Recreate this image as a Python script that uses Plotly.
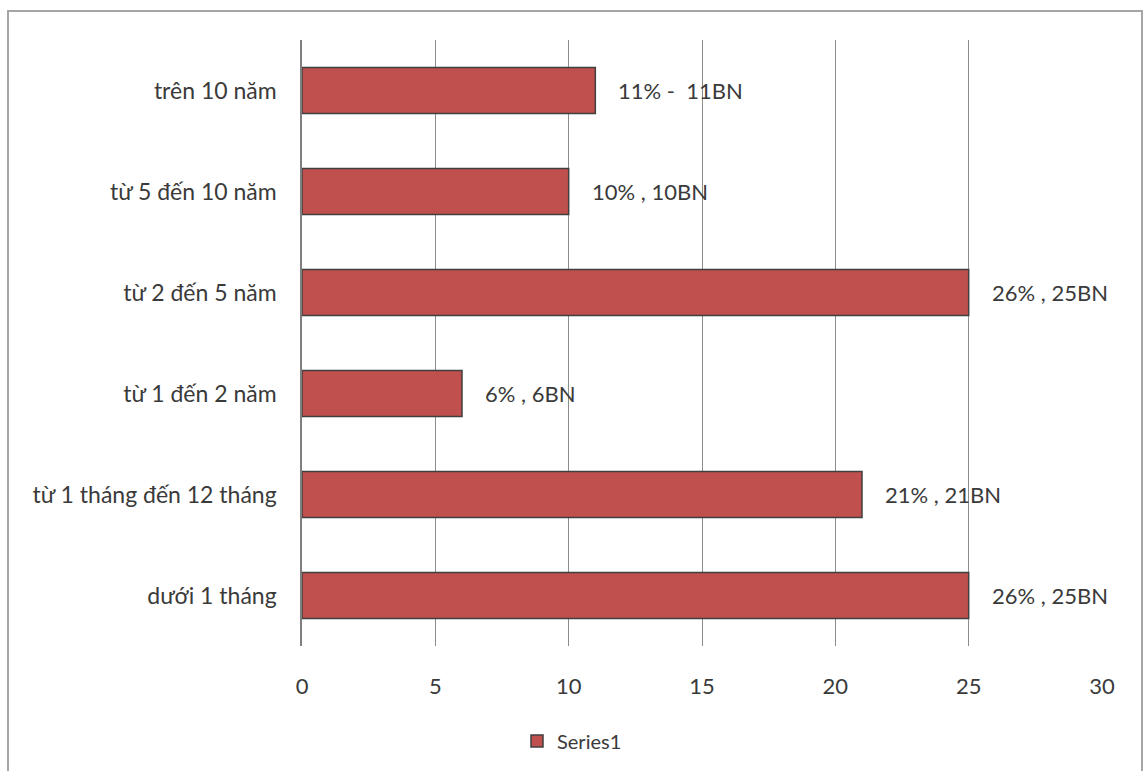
import plotly.graph_objects as go

categories = ["dưới 1 tháng", "từ 1 tháng đến 12 tháng", "từ 1 đến 2 năm",
              "từ 2 đến 5 năm", "từ 5 đến 10 năm", "trên 10 năm"]
values = [25, 21, 6, 25, 10, 11]
data_labels = ["26% , 25BN", "21% , 21BN", "6% , 6BN",
               "26% , 25BN", "10% , 10BN", "11% -  11BN"]
x_ticks = [0, 5, 10, 15, 20, 25, 30]

FONT = "Lato, Carlito, Calibri, sans-serif"
TXT = "#3a3a3a"

fig = go.Figure()
fig.add_trace(go.Bar(
    y=categories, x=values, orientation="h", name="Series1",
    marker=dict(color="#c0504d", line=dict(color="#3f3f3f", width=1.5)),
    showlegend=True,
))

for c, v, t in zip(categories, values, data_labels):
    fig.add_annotation(x=v, y=c, text=t, showarrow=False, xanchor="left",
                       xshift=21, font=dict(family=FONT, size=22, color=TXT))

fig.add_shape(type="rect", xref="paper", yref="paper",
              x0=(8 - 302) / 800, x1=(1142 - 302) / 800,
              y0=-0.3, y1=(647 - 11) / 607,
              line=dict(color="#a6a6a6", width=2), fillcolor="rgba(0,0,0,0)",
              layer="below")

fig.update_layout(
    width=1144, height=771,
    margin=dict(l=302, r=42, t=40, b=124),
    paper_bgcolor="white", plot_bgcolor="white",
    bargap=0.545,
    font=dict(family=FONT, size=22, color=TXT),
    legend=dict(orientation="h", x=(572 - 302) / 800, xanchor="center",
                y=(647 - 741) / 607, yanchor="middle",
                font=dict(family=FONT, size=20, color=TXT)),
    xaxis=dict(range=[0, 30], tickvals=x_ticks, showgrid=True,
               gridcolor="#8c8c8c", gridwidth=1, zeroline=False,
               showline=False, ticks="outside", ticklen=21,
               tickcolor="rgba(0,0,0,0)", tickfont=dict(size=22)),
    yaxis=dict(showline=True, linecolor="#7f7f7f", linewidth=1.5,
               ticks="outside", ticklen=19, tickcolor="rgba(0,0,0,0)",
               tickfont=dict(size=23)),
)

fig.write_html("out.html")
